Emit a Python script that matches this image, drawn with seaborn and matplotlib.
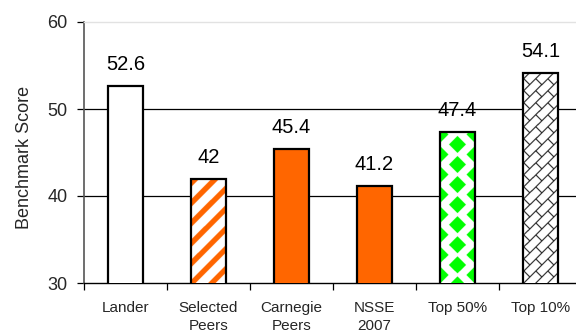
import numpy as np
import pandas as pd
import matplotlib
matplotlib.use("Agg")
import matplotlib.pyplot as plt
import seaborn as sns

# Benchmark scores by comparison group
categories = ["Lander", "Selected\nPeers", "Carnegie\nPeers", "NSSE\n2007", "Top 50%", "Top 10%"]
scores = [52.6, 42.0, 45.4, 41.2, 47.4, 54.1]
value_labels = ["52.6", "42", "45.4", "41.2", "47.4", "54.1"]
y_ticks = [30, 40, 50, 60]

ORANGE = "#FF6600"
GREEN = "#00FF00"
fills = ["white", "white", ORANGE, ORANGE, "white", "white"]
textures = [None, "stripes", None, None, "diamonds", "bricks"]

sns.set_style("white")
plt.rcParams["font.family"] = ["Liberation Sans", "DejaVu Sans"]

fig = plt.figure(figsize=(5.76, 3.33), dpi=100)
ax = fig.add_axes([84 / 576, 50 / 333, 498 / 576, 261 / 333])

df = pd.DataFrame({"group": categories, "score": scores})
sns.barplot(data=df, x="group", y="score", hue="group", palette=fills,
            legend=False, width=0.42, edgecolor="black", linewidth=1.6,
            saturation=1, ax=ax, zorder=3)

ax.set_xlim(-0.5, len(categories) - 0.5)
ax.set_ylim(y_ticks[0], y_ticks[-1])
ax.set_yticks(y_ticks)
ax.set_xlabel("")
ax.set_ylabel("Benchmark Score", fontsize=13)
ax.yaxis.set_label_coords(-0.103, 0.48)

# horizontal reference lines at the inner ticks only
for v in y_ticks[1:-1]:
    ax.axhline(v, color="black", linewidth=0.9, zorder=1)

ax.spines["right"].set_visible(False)
ax.spines["top"].set_color("#e2e2e2")
ax.spines["top"].set_linewidth(1.0)
ax.spines["left"].set_color("#555555")
ax.spines["left"].set_linewidth(1.2)
ax.spines["bottom"].set_color("black")
ax.spines["bottom"].set_linewidth(1.0)

ax.tick_params(axis="y", left=True, length=5, width=0.9, color="black",
               direction="out", pad=7, labelsize=13)
ax.set_xticks(range(len(categories)))
ax.set_xticklabels(categories, fontsize=11, linespacing=1.35)
ax.tick_params(axis="x", which="major", bottom=True, length=0, pad=13)
ax.set_xticks(np.arange(-0.5, len(categories), 1.0), minor=True)
ax.tick_params(axis="x", which="minor", bottom=True, length=5, width=0.9,
               color="black", direction="out")


# ---- fill textures, computed in screen pixels and clipped to each bar ----
def pixel_grid(patch, ss=4):
    x0, w = patch.get_x(), patch.get_width()
    top = patch.get_height()
    bottom = y_ticks[0]
    dx0, dy0 = ax.transData.transform((x0, bottom))
    dx1, dy1 = ax.transData.transform((x0 + w, top))
    wpx, hpx = dx1 - dx0, dy1 - dy0
    nx, ny = int(np.ceil(wpx * ss)), int(np.ceil(hpx * ss))
    xs = (np.arange(nx) + 0.5) * (wpx / nx)
    ys = (np.arange(ny) + 0.5) * (hpx / ny)
    X, Y = np.meshgrid(xs, ys)
    return X, Y, wpx, [x0, x0 + w, bottom, top]


def stripes(X, Y, wpx):
    period, frac = 20.0, 0.38
    return np.mod(X - Y + 3.0, period) < period * frac


def diamonds(X, Y, wpx):
    # staggered harlequin: half diamonds on the edges, whole ones in the middle
    px, py, r = wpx / 2.0, 20.0, 8.5
    cx, cy = 0.0, 8.0
    hit = np.zeros_like(X, dtype=bool)
    kb = np.floor((X - cx) / px)
    for dk in (0, 1):
        k = kb + dk
        xc = cx + px * k
        yoff = (py / 2) * np.mod(k, 2)
        m = np.round((Y - cy - yoff) / py)
        yc = cy + yoff + py * m
        hit |= (np.abs(X - xc) + np.abs(Y - yc)) <= r
    return hit


def bricks(X, Y, wpx):
    period, brick, lw = 12.0, 24.0, 1.5
    s = X - Y
    row = np.floor(s / period)
    lines = np.mod(s, period) < lw
    t = X + Y + (brick / 2) * np.mod(row, 2)
    ends = np.mod(t, brick) < lw
    return lines | ends


texture_specs = {
    "stripes": (stripes, ORANGE),
    "diamonds": (diamonds, GREEN),
    "bricks": (bricks, "#1a1a1a"),
}

bars = list(ax.patches)
for patch, tex in zip(bars, textures):
    if tex is None:
        continue
    fn, col = texture_specs[tex]
    X, Y, wpx, extent = pixel_grid(patch)
    mask = fn(X, Y, wpx)
    rgb = np.array(matplotlib.colors.to_rgb(col))
    img = np.ones(X.shape + (3,))
    img[mask] = rgb
    im = ax.imshow(img, extent=extent, origin="lower", aspect="auto",
                   interpolation="antialiased", zorder=3)
    im.set_clip_path(patch)
    patch.set_facecolor("none")
    patch.set_zorder(4)

# value labels above each bar
for i, (v, lab) in enumerate(zip(scores, value_labels)):
    ax.annotate(lab, xy=(i, v), xytext=(0, 11.5), textcoords="offset points",
                ha="center", va="baseline", fontsize=14.5, color="black")

ax.set_xlim(-0.5, len(categories) - 0.5)
ax.set_ylim(y_ticks[0], y_ticks[-1])

fig.savefig("out.png", dpi=100)
